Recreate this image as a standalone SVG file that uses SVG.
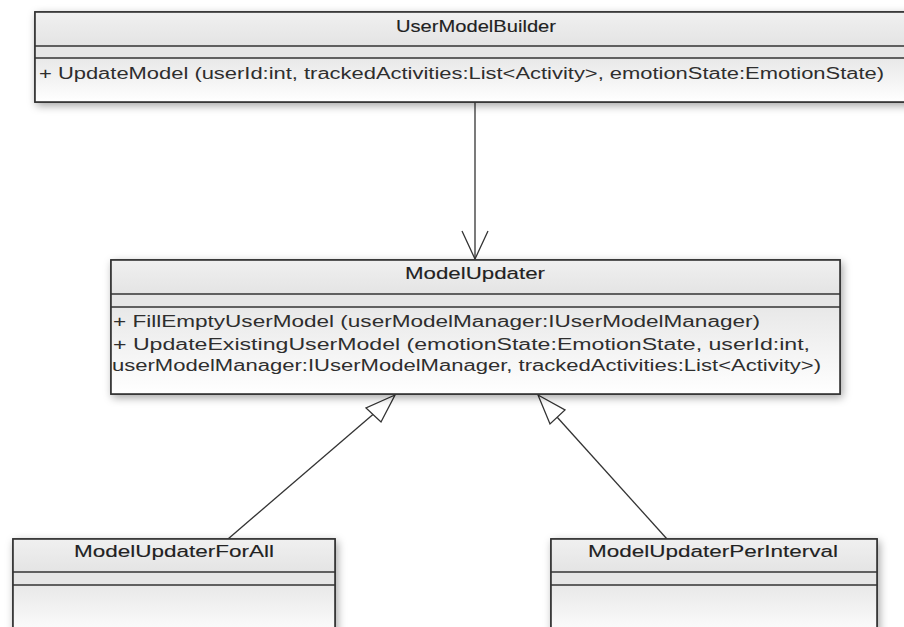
<svg xmlns="http://www.w3.org/2000/svg" width="904" height="627" viewBox="0 0 904 627">
  <style>
    .box { stroke: #333333; stroke-width: 1.6; }
    .sep { stroke: #333333; stroke-width: 1.6; fill: none; }
    .hdr { fill: url(#hdrGrad); }
    .attr { fill: #e6e6e6; }
    .body { fill: url(#bodyGrad); }
    .title { font-family: "Liberation Sans", Arial, sans-serif; font-size: 17px; fill: #222222; stroke: #222222; stroke-width: 0.12; text-anchor: middle; }
    .op { font-family: "Liberation Sans", Arial, sans-serif; font-size: 16px; fill: #2e2e2e; }
    .conn { stroke: #333333; stroke-width: 1.3; fill: none; }
    .tri { stroke: #333333; stroke-width: 1.3; fill: #ffffff; }
  </style>
  <defs>
    <linearGradient id="hdrGrad" x1="0" y1="0" x2="0" y2="1">
      <stop offset="0" stop-color="#f0f0f0"/>
      <stop offset="1" stop-color="#e4e4e4"/>
    </linearGradient>
    <linearGradient id="bodyGrad" x1="0" y1="0" x2="0" y2="1">
      <stop offset="0" stop-color="#e8e8e8"/>
      <stop offset="1" stop-color="#ffffff"/>
    </linearGradient>
    <filter id="shadow" x="-5%" y="-20%" width="110%" height="150%">
      <feDropShadow dx="2" dy="3" stdDeviation="4" flood-color="#000000" flood-opacity="0.35"/>
    </filter>
  </defs>
  <rect width="904" height="627" fill="#ffffff"/>

  <g id="connectors">
    <line class="conn" x1="475" y1="102" x2="475" y2="259"/>
    <polyline class="conn" points="462,231 475,259 488,231"/>
    <line class="conn" x1="228" y1="539" x2="377" y2="411"/>
    <polygon class="tri" points="395,395 366,408 381,422"/>
    <line class="conn" x1="667" y1="539" x2="557" y2="417"/>
    <polygon class="tri" points="538,395 565,410 550,424"/>
  </g>

  <g id="UserModelBuilder">
    <g filter="url(#shadow)">
      <rect class="box" x="35" y="12" width="880" height="90" fill="#ffffff"/>
    </g>
    <rect class="hdr" x="35" y="12" width="880" height="34"/>
    <rect class="attr" x="35" y="46" width="880" height="12"/>
    <rect class="body" x="35" y="58" width="880" height="44"/>
    <rect class="box" x="35" y="12" width="880" height="90" fill="none"/>
    <line class="sep" x1="35" y1="46" x2="915" y2="46"/>
    <line class="sep" x1="35" y1="58" x2="915" y2="58"/>
    <text class="title" x="476" y="32" textLength="160" lengthAdjust="spacingAndGlyphs">UserModelBuilder</text>
    <text class="op" x="39" y="79" textLength="845" lengthAdjust="spacingAndGlyphs">+ UpdateModel (userId:int, trackedActivities:List&lt;Activity&gt;, emotionState:EmotionState)</text>
  </g>

  <g id="ModelUpdater">
    <g filter="url(#shadow)">
      <rect class="box" x="111" y="260" width="729" height="134" fill="#ffffff"/>
    </g>
    <rect class="hdr" x="111" y="260" width="729" height="34"/>
    <rect class="attr" x="111" y="294" width="729" height="13"/>
    <rect class="body" x="111" y="307" width="729" height="87"/>
    <rect class="box" x="111" y="260" width="729" height="134" fill="none"/>
    <line class="sep" x1="111" y1="294" x2="840" y2="294"/>
    <line class="sep" x1="111" y1="307" x2="840" y2="307"/>
    <text class="title" x="475" y="279" textLength="140" lengthAdjust="spacingAndGlyphs">ModelUpdater</text>
    <text class="op" x="113" y="327" textLength="647" lengthAdjust="spacingAndGlyphs">+ FillEmptyUserModel (userModelManager:IUserModelManager)</text>
    <text class="op" x="113" y="350" textLength="697" lengthAdjust="spacingAndGlyphs">+ UpdateExistingUserModel (emotionState:EmotionState, userId:int,</text>
    <text class="op" x="112" y="371" textLength="709" lengthAdjust="spacingAndGlyphs">userModelManager:IUserModelManager, trackedActivities:List&lt;Activity&gt;)</text>
  </g>

  <g id="ModelUpdaterForAll">
    <g filter="url(#shadow)">
      <rect class="box" x="13" y="539" width="322" height="100" fill="#ffffff"/>
    </g>
    <rect class="hdr" x="13" y="539" width="322" height="33"/>
    <rect class="attr" x="13" y="572" width="322" height="13"/>
    <rect class="body" x="13" y="585" width="322" height="54"/>
    <rect class="box" x="13" y="539" width="322" height="100" fill="none"/>
    <line class="sep" x1="13" y1="572" x2="335" y2="572"/>
    <line class="sep" x1="13" y1="585" x2="335" y2="585"/>
    <text class="title" x="174" y="557" textLength="200" lengthAdjust="spacingAndGlyphs">ModelUpdaterForAll</text>
  </g>

  <g id="ModelUpdaterPerInterval">
    <g filter="url(#shadow)">
      <rect class="box" x="551" y="539" width="326" height="100" fill="#ffffff"/>
    </g>
    <rect class="hdr" x="551" y="539" width="326" height="33"/>
    <rect class="attr" x="551" y="572" width="326" height="13"/>
    <rect class="body" x="551" y="585" width="326" height="54"/>
    <rect class="box" x="551" y="539" width="326" height="100" fill="none"/>
    <line class="sep" x1="551" y1="572" x2="877" y2="572"/>
    <line class="sep" x1="551" y1="585" x2="877" y2="585"/>
    <text class="title" x="713" y="557" textLength="250" lengthAdjust="spacingAndGlyphs">ModelUpdaterPerInterval</text>
  </g>
</svg>
